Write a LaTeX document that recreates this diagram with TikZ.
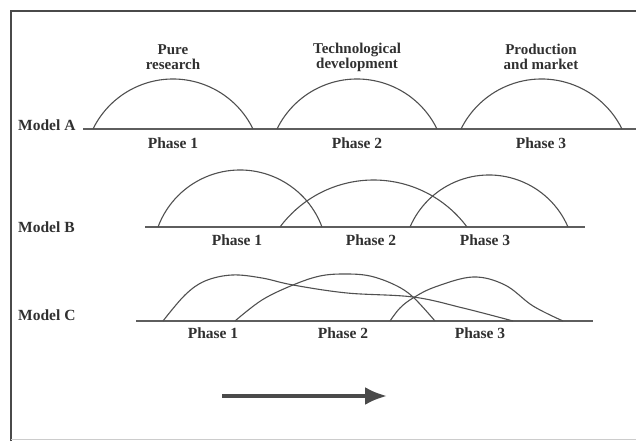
\documentclass[tikz,border=0pt]{standalone}
\usepackage{fontspec}
\setmainfont{Liberation Serif}
\usetikzlibrary{arrows.meta,positioning}
\definecolor{framegray}{HTML}{4A4A4A}
\definecolor{linegray}{HTML}{505050}
\definecolor{basegray}{HTML}{5E5E5E}
\definecolor{textgray}{HTML}{303030}

\begin{document}
\begin{tikzpicture}[x=1pt,y=1pt,
    lbl/.style={font=\fontsize{15.5}{15}\selectfont\bfseries, text=textgray, inner sep=0pt, align=center},
    toplbl/.style={lbl, font=\fontsize{15}{15}\selectfont\bfseries},
    arch/.style={linegray, line width=1.1pt},
    base/.style={basegray, line width=2.6pt},
    box/.style={framegray, line width=2.6pt}]
    \useasboundingbox (0,0) rectangle (636,441);
    % frame
    \draw[box] (11,0) -- (11,430) -- (640,430);
    \draw[gray!40, line width=0.8pt] (11,2) -- (636,2);
    % model A
    \node[lbl, anchor=west] (modA) at (18,316) {Model A};
    \draw[base] (83,312) -- (640,312);
    \foreach \l/\r/\h in {93/253/50, 277/437/50, 461/622/50}{
        \pgfmathsetmacro\rad{(((\r-\l)/2)^2+\h^2)/(2*\h)}
        \pgfmathsetmacro\ang{asin((\r-\l)/(2*\rad))}
        \draw[arch] (\r,312) arc[start angle=90-\ang, end angle=90+\ang, radius=\rad];
    }
    \node[toplbl] (pure) at (173,384) {Pure\\research};
    \node[toplbl] (tech) at (357,384) {Technological\\development};
    \node[toplbl] (prod) at (541,384) {Production\\and market};
    \foreach \x/\n in {173/1, 357/2, 541/3}
        \node[lbl] (phA\n) at (\x,298) {Phase \n};
    % model B
    \node[lbl, anchor=west] (modB) at (18,214) {Model B};
    \draw[base] (145,214) -- (585,214);
    \foreach \l/\r/\h in {158/322/57, 280/467/47, 410/568/52}{
        \pgfmathsetmacro\rad{(((\r-\l)/2)^2+\h^2)/(2*\h)}
        \pgfmathsetmacro\ang{asin((\r-\l)/(2*\rad))}
        \draw[arch] (\r,214) arc[start angle=90-\ang, end angle=90+\ang, radius=\rad];
    }
    \foreach \x/\n in {237/1, 371/2, 485/3}
        \node[lbl] (phB\n) at (\x,201) {Phase \n};
    % model C
    \node[lbl, anchor=west] (modC) at (18,126) {Model C};
    \draw[base] (136,120) -- (593,120);
    \draw[arch] plot[smooth, tension=0.6] coordinates {(163,120) (185,146) (205,160) (232,166) (262,163) (293,156) (347,148) (413,144) (463,133) (513,120)};
    \draw[arch] plot[smooth, tension=0.6] coordinates {(235,120) (262,141) (293,156) (320,165) (345,167) (370,165) (395,156) (413,144) (435,120)};
    \draw[arch] plot[smooth, tension=0.6] coordinates {(390,120) (400,133) (413,143) (435,154) (473,164) (505,156) (533,135) (563,120)};
    \foreach \x/\n in {213/1, 343/2, 480/3}
        \node[lbl] (phC\n) at (\x,108) {Phase \n};
    % arrow
    \coordinate (arrtail) at (222,45);
    \coordinate (arrtip) at (387,45);
    \draw[framegray, line width=3.6pt, -{Latex[length=22pt,width=18pt]}] (arrtail) -- (arrtip);
\end{tikzpicture}
\end{document}
